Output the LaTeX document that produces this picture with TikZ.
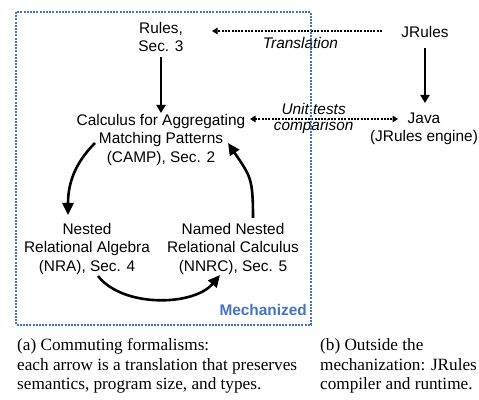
\documentclass[tikz,border=0pt]{standalone}
\usepackage{fontspec}
\setmainfont{Liberation Serif}
\setsansfont{Liberation Sans}
\usepackage{tikz}
\usetikzlibrary{arrows.meta}
\definecolor{mechblue}{HTML}{4472C4}

\begin{document}
\begin{tikzpicture}[x=1pt, y=1pt,
  box/.style={align=center, inner sep=0pt, font=\sffamily\fontsize{15.4}{18.5}\selectfont},
  lbl/.style={inner sep=0pt, anchor=base, font=\sffamily\itshape\fontsize{15.4}{18.5}\selectfont},
  thin arrow/.style={line width=2pt, -{Triangle[width=9pt,length=8pt]}},
  bend arrow/.style={line width=2.6pt, -{Triangle[width=11pt,length=12pt]}},
  dot arrow/.style={line width=2pt, dash pattern=on 2pt off 1.3pt, -{Triangle[width=6.5pt,length=5.5pt]}},
  dot arrows/.style={dot arrow, {Triangle[width=6.5pt,length=5.5pt]}-{Triangle[width=6.5pt,length=5.5pt]}},
  captext/.style={align=left, inner sep=0pt, anchor=north west, font=\fontsize{17.2}{19.5}\selectfont}]
  \useasboundingbox (0,0) rectangle (479,399);

  \node[box] (rules) at (161,362) {Rules,\\Sec. 3};
  \node[box] (camp)  at (161,259) {Calculus for Aggregating\\Matching Patterns\\(CAMP), Sec. 2};
  \node[box] (nra)   at (87,150)  {Nested\\Relational Algebra\\(NRA), Sec. 4};
  \node[box] (nnrc)  at (233,150) {Named Nested\\Relational Calculus\\(NNRC), Sec. 5};
  \node[box] (jrules) at (425,367) {JRules};
  \node[box] (java)   at (424,270) {Java\\(JRules engine)};
  \node[box, anchor=base east, font=\sffamily\bfseries\fontsize{15.4}{18.5}\selectfont, text=mechblue] (mech) at (307,84) {Mechanized};

  \path ([yshift=-20]rules.center) edge[thin arrow] ([yshift=27]camp.center)
        ([yshift=-16]jrules.center) edge[thin arrow] ([shift={(1,26)}]java.center);

  \draw[dot arrow] ([shift={(-43,1)}]jrules.center) -- ([shift={(51,6)}]rules.center)
    node[lbl, pos=.48, yshift=-18] {Translation};
  \draw[dot arrows] ([shift={(89,21)}]camp.center) -- ([shift={(-26,10)}]java.center)
    node[lbl, pos=.43, yshift=4] {Unit tests}
    node[lbl, pos=.43, yshift=-12] {comparison};

  \draw[bend arrow] ([shift={(-66,-3)}]camp.center) to[out=225, in=90] ([shift={(-19,34)}]nra.center);
  \draw[bend arrow] ([shift={(11,-27)}]nra.center) to[out=-52, in=230, looseness=.85] ([shift={(-13,-26)}]nnrc.center);
  \draw[bend arrow] ([shift={(20,31)}]nnrc.center) to[out=90, in=-56, looseness=1.3] ([shift={(67,-3)}]camp.center);

  \draw[mechblue, line width=1.8pt, dash pattern=on 2pt off 1.2pt] (16,387) rectangle (311,74);

  \node[captext] (capa) at (17,60.5) {(a) Commuting formalisms:\\each arrow is a translation that preserves\\semantics, program size, and types.};
  \node[captext] (capb) at (320,60.5) {(b) Outside the\\mechanization: JRules\\compiler and runtime.};
\end{tikzpicture}
\end{document}
